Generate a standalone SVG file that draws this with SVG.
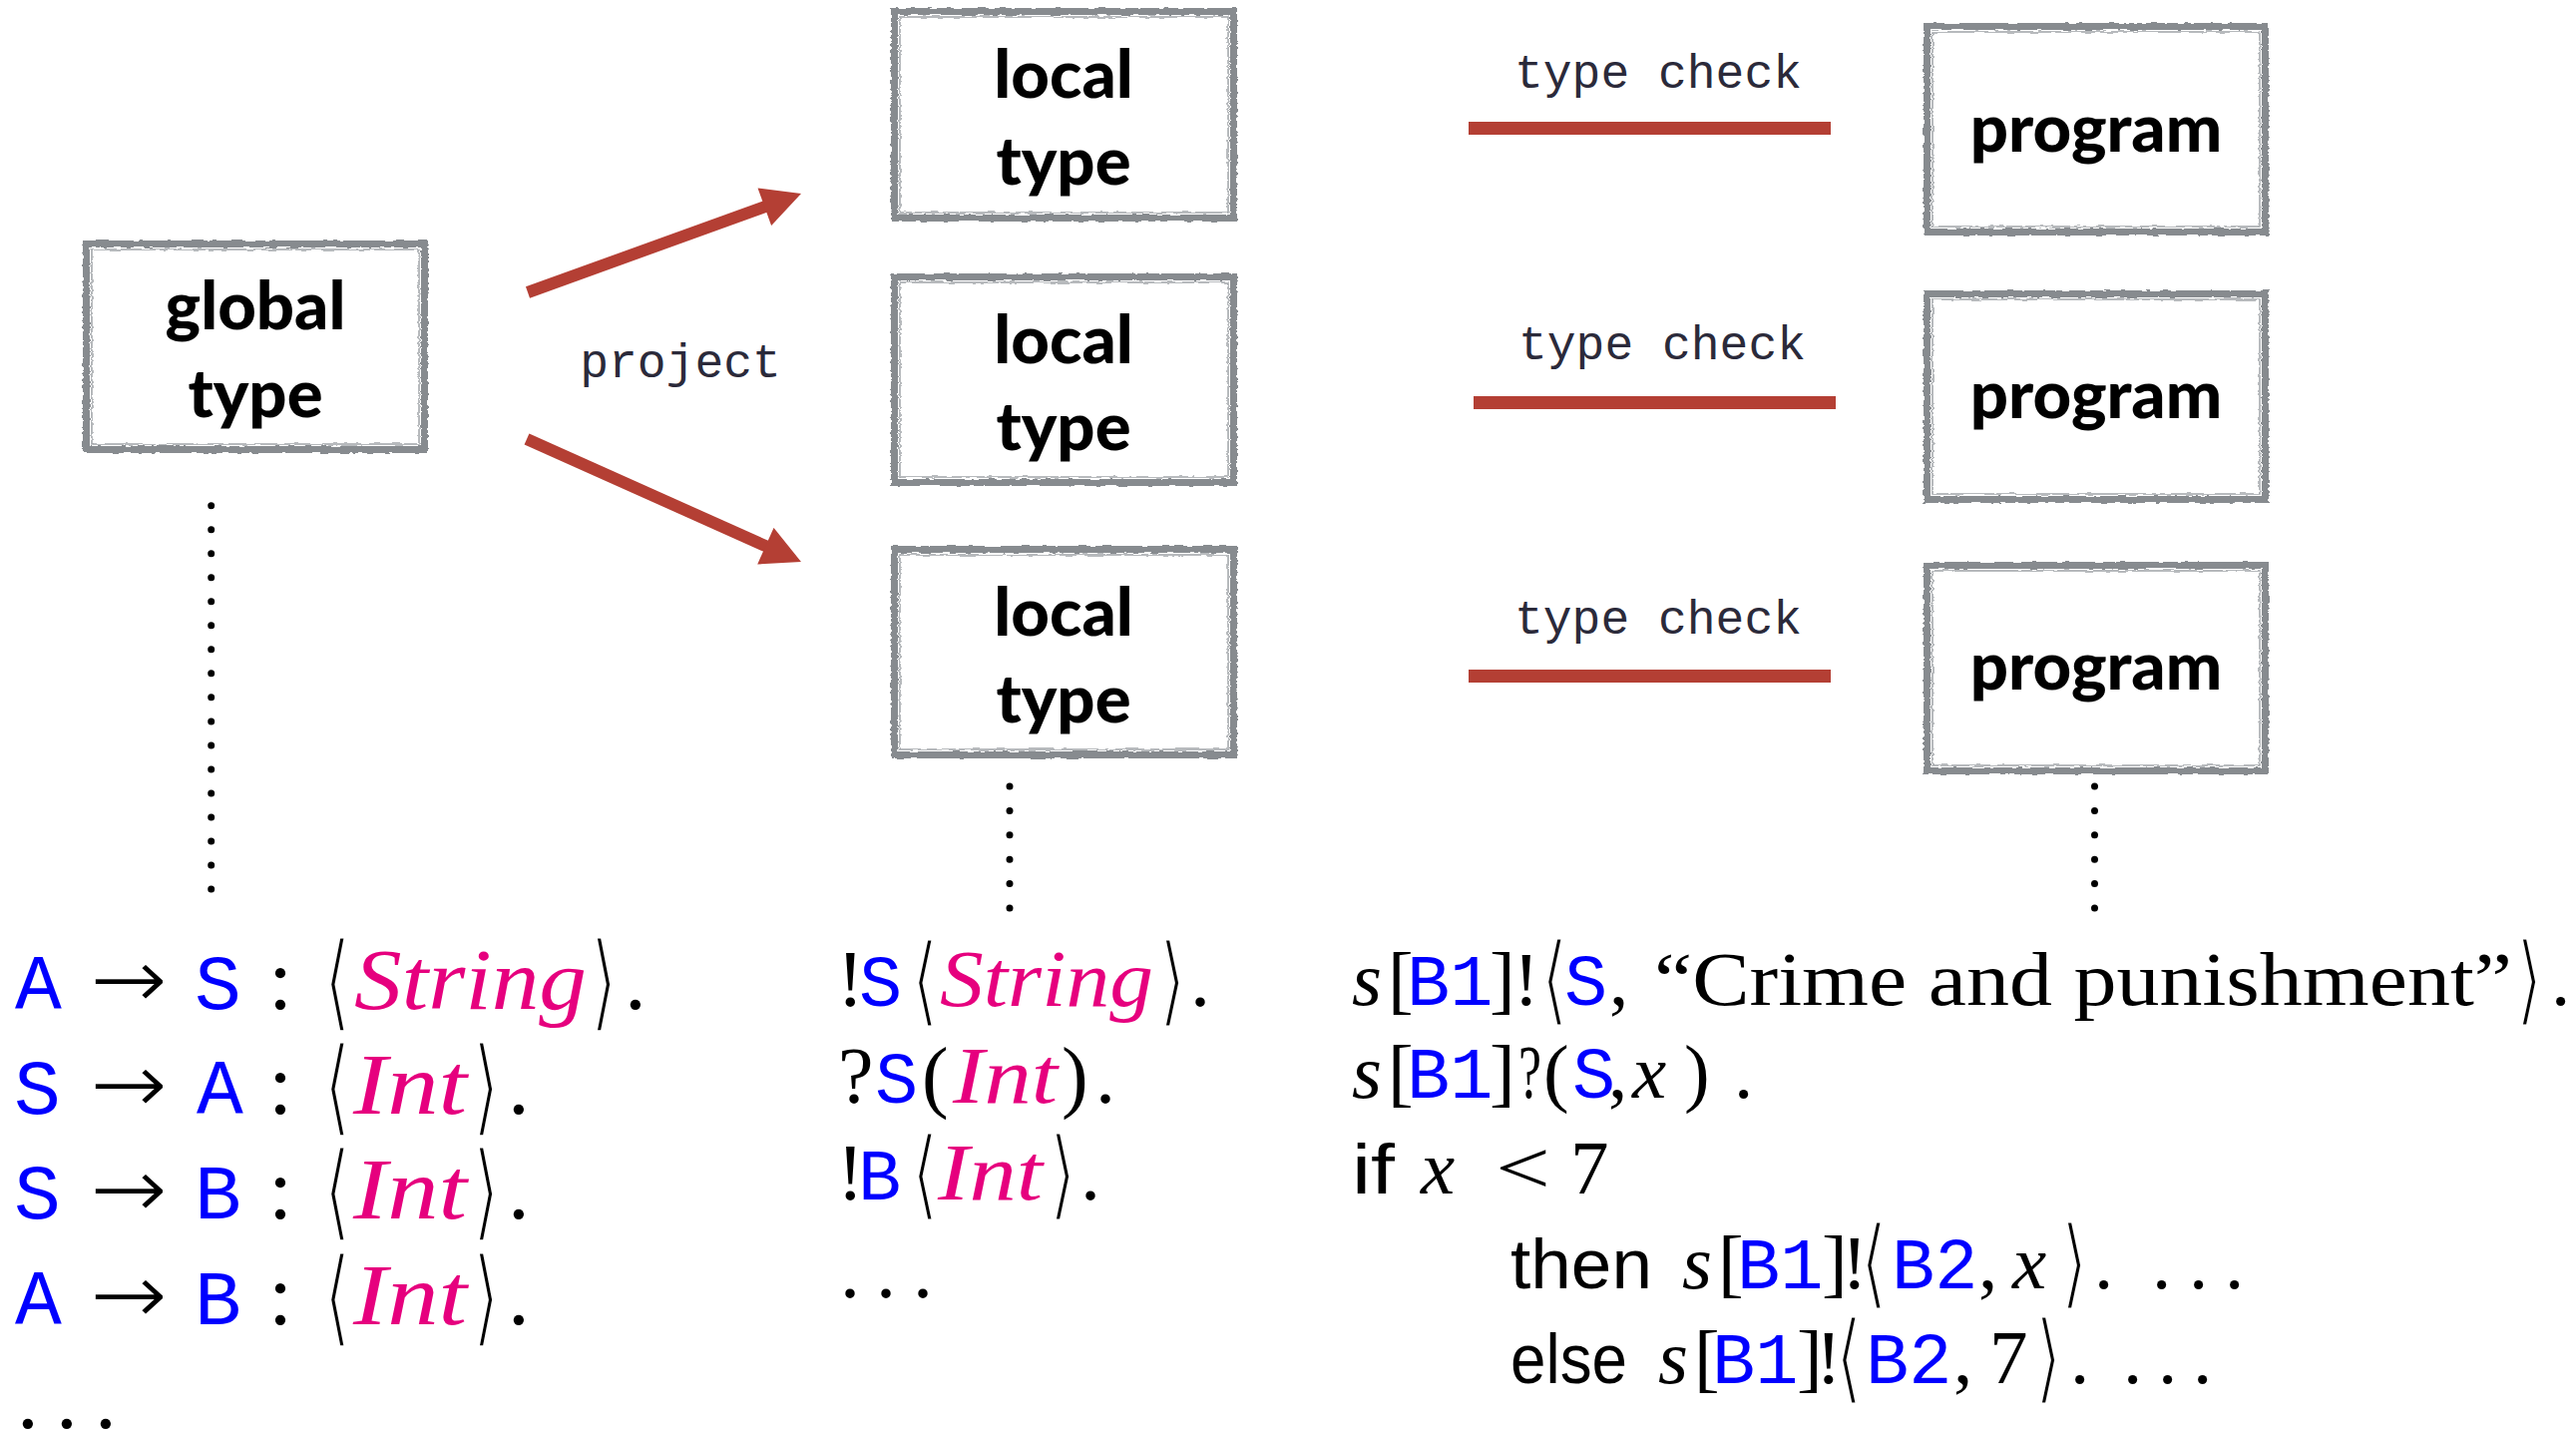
<svg xmlns="http://www.w3.org/2000/svg" width="2582" height="1434" viewBox="0 0 2582 1434">
<defs>
<style>
.box{fill:#fff;stroke:#878b8f;stroke-width:7}
.box2{fill:none;stroke:#a0a4a8;stroke-width:1.5}
.lbl{font-family:Lato,"Noto Sans",sans-serif;font-weight:900;font-size:67px;fill:#000;text-anchor:middle}
.mono{font-family:"Liberation Mono",monospace;font-size:48px;fill:#2b2a3a;text-anchor:middle}
.red{stroke:#b43f34;stroke-width:12;fill:none}
.bar{fill:#b43f34}
.dots{stroke:#000;stroke-width:7;stroke-linecap:round;fill:none}
.rm{font-family:"Liberation Serif",serif;fill:#000}
.it{font-family:"Liberation Serif",serif;font-style:italic;fill:#000}
.ty{fill:#e6007e}
.tt{font-family:"Liberation Mono",monospace;fill:#0000ff}
.br{font-family:"DejaVu Sans",sans-serif;font-size:90px;fill:#000;stroke:#fff;stroke-width:3}
.ar{font-family:"DejaVu Sans",sans-serif;fill:#000;stroke:#fff;stroke-width:2.5}
.sf{font-family:"Liberation Sans",sans-serif;fill:#000}
</style>
<filter id="rough" x="-3%" y="-3%" width="106%" height="106%">
<feTurbulence type="fractalNoise" baseFrequency="0.09 0.35" numOctaves="2" seed="4" result="n"/>
<feDisplacementMap in="SourceGraphic" in2="n" scale="4" xChannelSelector="R" yChannelSelector="G"/>
</filter>
<marker id="ah" markerUnits="userSpaceOnUse" markerWidth="40" markerHeight="40" viewBox="0 0 39 40" refX="9" refY="20" orient="auto"><path d="M0,0 L39,20 L0,40 Z" fill="#b43f34"/></marker>
</defs>
<rect width="2582" height="1434" fill="#fff"/>

<g id="global-type">
<g filter="url(#rough)">
<rect class="box" x="86.5" y="244.5" width="339" height="206"/>
<rect class="box2" x="92" y="250" width="328" height="195"/>
</g>
<text class="lbl" x="256" y="330">global</text>
<text class="lbl" x="256" y="418">type</text>
</g>

<g id="local-type-1">
<g filter="url(#rough)">
<rect class="box" x="896.5" y="11.5" width="340" height="207"/>
<rect class="box2" x="902" y="17" width="329" height="196"/>
</g>
<text class="lbl" x="1066" y="98">local</text>
<text class="lbl" x="1066" y="185">type</text>
</g>
<g id="local-type-2">
<g filter="url(#rough)">
<rect class="box" x="896.5" y="277.5" width="340" height="206"/>
<rect class="box2" x="902" y="283" width="329" height="195"/>
</g>
<text class="lbl" x="1066" y="364">local</text>
<text class="lbl" x="1066" y="451">type</text>
</g>
<g id="local-type-3">
<g filter="url(#rough)">
<rect class="box" x="896.5" y="550.5" width="340" height="206"/>
<rect class="box2" x="902" y="556" width="329" height="195"/>
</g>
<text class="lbl" x="1066" y="637">local</text>
<text class="lbl" x="1066" y="724">type</text>
</g>

<g id="program-1">
<g filter="url(#rough)">
<rect class="box" x="1931.5" y="26.5" width="339" height="206"/>
<rect class="box2" x="1937" y="32" width="328" height="195"/>
</g>
<text class="lbl" x="2101" y="152">program</text>
</g>
<g id="program-2">
<g filter="url(#rough)">
<rect class="box" x="1931.5" y="294.5" width="339" height="206"/>
<rect class="box2" x="1937" y="300" width="328" height="195"/>
</g>
<text class="lbl" x="2101" y="419">program</text>
</g>
<g id="program-3">
<g filter="url(#rough)">
<rect class="box" x="1931.5" y="566.5" width="339" height="206"/>
<rect class="box2" x="1937" y="572" width="328" height="195"/>
</g>
<text class="lbl" x="2101" y="691">program</text>
</g>

<g id="connectors">
<line class="red" x1="529" y1="293" x2="774.8" y2="204.2" marker-end="url(#ah)"/>
<line class="red" x1="528" y1="440" x2="775.6" y2="550.8" marker-end="url(#ah)"/>
<text class="mono" x="682" y="378">project</text>
<rect class="bar" x="1472" y="122" width="363" height="13"/>
<rect class="bar" x="1477" y="397" width="363" height="13"/>
<rect class="bar" x="1472" y="671" width="363" height="13"/>
<text class="mono" x="1662" y="88">type check</text>
<text class="mono" x="1666" y="360">type check</text>
<text class="mono" x="1662" y="635">type check</text>
<line class="dots" x1="211.7" y1="506.7" x2="211.7" y2="895" stroke-dasharray="0 24.02"/>
<line class="dots" x1="1012" y1="788" x2="1012" y2="913" stroke-dasharray="0 24.4"/>
<line class="dots" x1="2099.5" y1="788" x2="2099.5" y2="913" stroke-dasharray="0 24.4"/>
</g>

<g id="global-protocol" font-size="87">
<text y="1011"><tspan class="tt" font-size="78" x="15">A</tspan><tspan class="tt" font-size="78" x="195">S</tspan><tspan class="rm" x="269">:</tspan><tspan class="rm" x="626">.</tspan></text>
<text class="ar" x="89" y="1011" textLength="80" lengthAdjust="spacingAndGlyphs">→</text>
<text class="it ty" x="355" y="1011" textLength="233" lengthAdjust="spacingAndGlyphs">String</text>
<text class="br" transform="translate(325,1019.6) scale(0.75,1.19)">⟨</text>
<text class="br" transform="translate(592,1019.6) scale(0.75,1.19)">⟩</text>

<text y="1116"><tspan class="tt" font-size="78" x="14">S</tspan><tspan class="tt" font-size="78" x="197">A</tspan><tspan class="rm" x="269">:</tspan><tspan class="rm" x="509">.</tspan></text>
<text class="ar" x="89" y="1116" textLength="80" lengthAdjust="spacingAndGlyphs">→</text>
<text class="it ty" x="354" y="1116" textLength="114" lengthAdjust="spacingAndGlyphs">Int</text>
<text class="br" transform="translate(325,1124.6) scale(0.75,1.19)">⟨</text>
<text class="br" transform="translate(474,1124.6) scale(0.75,1.19)">⟩</text>

<text y="1221"><tspan class="tt" font-size="78" x="14">S</tspan><tspan class="tt" font-size="78" x="195">B</tspan><tspan class="rm" x="269">:</tspan><tspan class="rm" x="509">.</tspan></text>
<text class="ar" x="89" y="1221" textLength="80" lengthAdjust="spacingAndGlyphs">→</text>
<text class="it ty" x="354" y="1221" textLength="114" lengthAdjust="spacingAndGlyphs">Int</text>
<text class="br" transform="translate(325,1229.6) scale(0.75,1.19)">⟨</text>
<text class="br" transform="translate(474,1229.6) scale(0.75,1.19)">⟩</text>

<text y="1327"><tspan class="tt" font-size="78" x="15">A</tspan><tspan class="tt" font-size="78" x="195">B</tspan><tspan class="rm" x="269">:</tspan><tspan class="rm" x="509">.</tspan></text>
<text class="ar" x="89" y="1327" textLength="80" lengthAdjust="spacingAndGlyphs">→</text>
<text class="it ty" x="354" y="1327" textLength="114" lengthAdjust="spacingAndGlyphs">Int</text>
<text class="br" transform="translate(325,1335.6) scale(0.75,1.19)">⟨</text>
<text class="br" transform="translate(474,1335.6) scale(0.75,1.19)">⟩</text>

<text class="rm" y="1431"><tspan x="17">.</tspan><tspan x="56">.</tspan><tspan x="95">.</tspan></text>
</g>

<g id="local-protocol" font-size="80">
<text y="1008"><tspan class="rm" x="839">!</tspan><tspan class="tt" font-size="72" x="861">S</tspan><tspan class="rm" x="1193">.</tspan></text>
<text class="it ty" x="942" y="1008" textLength="214" lengthAdjust="spacingAndGlyphs">String</text>
<text class="br" transform="translate(914,1016) scale(0.75,1.1)">⟨</text>
<text class="br" transform="translate(1162,1016) scale(0.75,1.1)">⟩</text>

<text y="1105"><tspan class="rm" x="840">?</tspan><tspan class="tt" font-size="72" x="877">S</tspan><tspan class="rm" x="924">(</tspan><tspan class="rm" x="1064">)</tspan><tspan class="rm" x="1098">.</tspan></text>
<text class="it ty" x="955" y="1105" textLength="105" lengthAdjust="spacingAndGlyphs">Int</text>

<text y="1202"><tspan class="rm" x="839">!</tspan><tspan class="tt" font-size="72" x="860">B</tspan><tspan class="rm" x="1083">.</tspan></text>
<text class="it ty" x="940" y="1202" textLength="105" lengthAdjust="spacingAndGlyphs">Int</text>
<text class="br" transform="translate(914,1210) scale(0.75,1.1)">⟨</text>
<text class="br" transform="translate(1052,1210) scale(0.75,1.1)">⟩</text>

<text class="rm" y="1300"><tspan x="842">.</tspan><tspan x="878">.</tspan><tspan x="915">.</tspan></text>
</g>

<g id="program-code" font-size="77">
<text y="1007"><tspan class="it" x="1355">s</tspan><tspan class="rm" x="1391">[</tspan><tspan class="tt" font-size="72" x="1410">B1</tspan><tspan class="rm" x="1493">]</tspan><tspan class="rm" x="1517">!</tspan><tspan class="tt" font-size="72" x="1568">S</tspan><tspan class="rm" x="1613">,</tspan><tspan class="rm" x="2557">.</tspan></text>
<text class="rm" x="1658" y="1007" textLength="860" lengthAdjust="spacingAndGlyphs">“Crime and punishment”</text>
<text class="br" transform="translate(1545,1015) scale(0.75,1.1)">⟨</text>
<text class="br" transform="translate(2522,1015) scale(0.75,1.1)">⟩</text>

<text y="1100"><tspan class="it" x="1355">s</tspan><tspan class="rm" x="1391">[</tspan><tspan class="tt" font-size="72" x="1410">B1</tspan><tspan class="rm" x="1493">]</tspan><tspan class="rm" x="1547">(</tspan><tspan class="tt" font-size="72" x="1576">S</tspan><tspan class="rm" x="1612">,</tspan><tspan class="it" x="1636">x</tspan><tspan class="rm" x="1688">)</tspan><tspan class="rm" x="1738">.</tspan></text>
<text class="rm" x="1522" y="1100" textLength="23" lengthAdjust="spacingAndGlyphs">?</text>

<text y="1196"><tspan class="it" x="1424">x</tspan><tspan class="rm" x="1574">7</tspan></text>
<text class="sf" x="1355" y="1196" font-size="70" textLength="43" lengthAdjust="spacingAndGlyphs">if</text>
<text class="rm" x="1499" y="1196" textLength="55" lengthAdjust="spacingAndGlyphs">&lt;</text>

<text y="1291"><tspan class="it" x="1686">s</tspan><tspan class="rm" x="1722">[</tspan><tspan class="tt" font-size="72" x="1741">B1</tspan><tspan class="rm" x="1826">]</tspan><tspan class="rm" x="1846">!</tspan><tspan class="tt" font-size="72" x="1896">B2</tspan><tspan class="rm" x="1983">,</tspan><tspan class="it" x="2017">x</tspan><tspan class="rm" x="2099">.</tspan><tspan class="rm" x="2157">.</tspan><tspan class="rm" x="2194">.</tspan><tspan class="rm" x="2230">.</tspan></text>
<text class="sf" x="1514" y="1291" font-size="70" textLength="142" lengthAdjust="spacingAndGlyphs">then</text>
<text class="br" transform="translate(1865,1299) scale(0.75,1.1)">⟨</text>
<text class="br" transform="translate(2066,1299) scale(0.75,1.1)">⟩</text>

<text y="1386"><tspan class="it" x="1662">s</tspan><tspan class="rm" x="1698">[</tspan><tspan class="tt" font-size="72" x="1716">B1</tspan><tspan class="rm" x="1801">]</tspan><tspan class="rm" x="1820">!</tspan><tspan class="tt" font-size="72" x="1870">B2</tspan><tspan class="rm" x="1958">,</tspan><tspan class="rm" x="1994">7</tspan><tspan class="rm" x="2075">.</tspan><tspan class="rm" x="2128">.</tspan><tspan class="rm" x="2163">.</tspan><tspan class="rm" x="2198">.</tspan></text>
<text class="sf" x="1514" y="1386" font-size="70" textLength="117" lengthAdjust="spacingAndGlyphs">else</text>
<text class="br" transform="translate(1840,1394) scale(0.75,1.1)">⟨</text>
<text class="br" transform="translate(2040,1394) scale(0.75,1.1)">⟩</text>
</g>
</svg>
